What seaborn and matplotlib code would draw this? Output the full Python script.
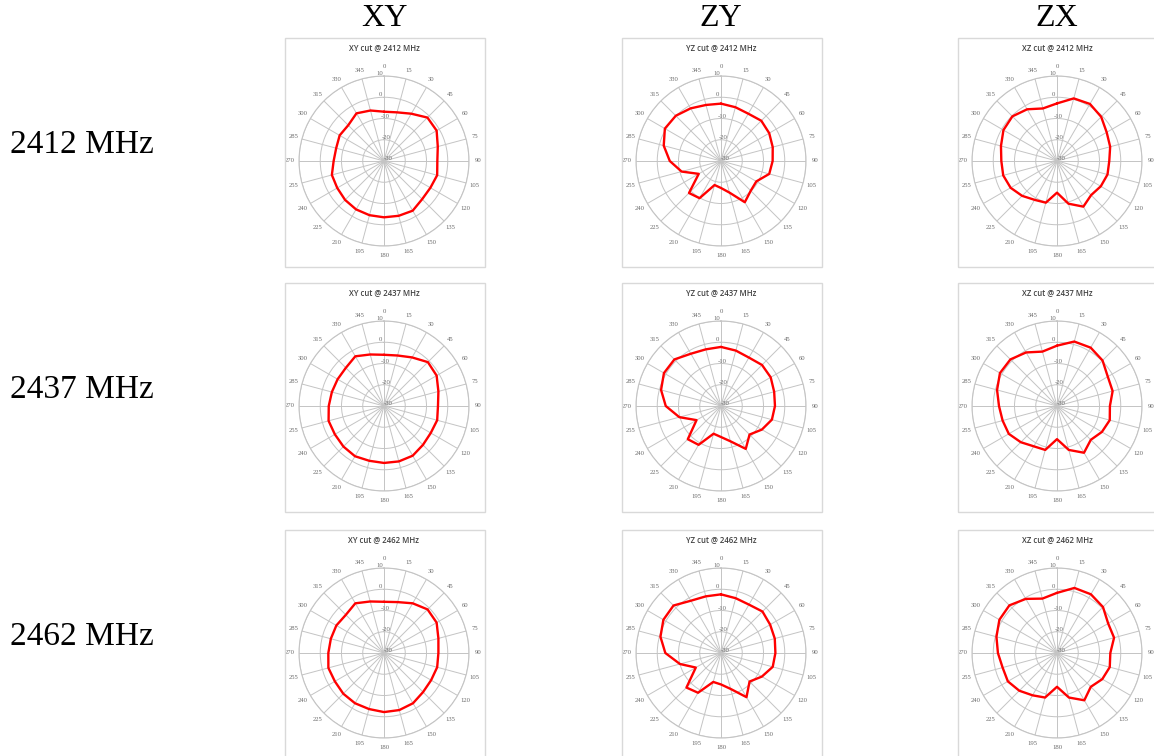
import numpy as np
import pandas as pd
import matplotlib
matplotlib.use("Agg")
import matplotlib.pyplot as plt
from matplotlib.patches import Rectangle
import seaborn as sns

# Antenna gain (dBi) sampled every 15 degrees, 0..345
angles_deg = list(range(0, 360, 15))
angle_labels = [str(a) for a in angles_deg]

xy_2412 = [-6.8, -6.3, -4.3, -1.1, -1.4, -3.8, -4.9, -4.1, -4.8, -4.6, -3.0, -3.3,
           -3.5, -3.6, -3.7, -4.1, -4.6, -4.6, -6.3, -6.7, -5.9, -6.2, -4.1, -5.4]
xy_2437 = [-5.9, -5.4, -3.6, -0.8, -1.4, -3.5, -4.6, -4.1, -4.6, -4.1, -3.0, -3.0,
           -3.2, -3.3, -2.7, -3.0, -3.3, -3.0, -4.0, -4.6, -4.8, -4.6, -3.0, -4.9]
xy_2462 = [-5.9, -5.2, -3.0, -1.0, -1.4, -3.5, -4.4, -4.1, -4.4, -4.0, -2.7, -2.2,
           -2.2, -2.7, -2.7, -2.9, -3.3, -2.9, -3.8, -4.1, -4.1, -4.6, -3.0, -4.9]

yz_2412 = [-3.0, -3.8, -4.3, -3.2, -3.8, -4.8, -5.7, -6.5, -10.8, -10.2, -7.6, -14.6,
           -17.3, -18.3, -9.8, -8.7, -17.9, -10.8, -5.9, -2.1, 0.5, 0.1, -1.4, -2.7]
yz_2437 = [-2.2, -3.0, -3.7, -2.7, -3.0, -4.1, -4.6, -5.2, -7.8, -11.0, -6.7, -12.8,
           -15.4, -16.5, -8.9, -7.9, -16.7, -9.7, -4.0, -0.8, 1.0, 1.0, -1.6, -2.4]
yz_2462 = [-2.4, -3.3, -3.7, -2.4, -3.3, -3.8, -4.4, -4.8, -7.8, -11.0, -6.0, -12.5,
           -15.2, -15.9, -8.4, -7.0, -16.3, -10.0, -3.8, -0.5, 1.3, 1.6, -1.6, -2.4]

xz_2412 = [-2.9, 0.5, 1.0, -0.6, -3.0, -4.1, -5.4, -5.4, -6.2, -7.3, -5.2, -9.2,
           -15.1, -9.7, -8.9, -6.8, -4.8, -3.8, -3.8, -2.7, -0.9, -0.3, -1.9, -4.4]
xz_2437 = [-1.6, 1.4, 1.7, 0.3, -2.4, -2.9, -5.1, -4.3, -5.6, -7.5, -4.6, -8.6,
           -14.4, -8.6, -8.1, -5.9, -3.8, -3.5, -2.7, -0.8, 1.0, 1.0, -0.9, -3.5]
xz_2462 = [-1.7, 1.7, 1.9, 0.6, -2.2, -2.2, -4.9, -4.3, -5.4, -7.5, -4.3, -8.3,
           -14.1, -8.3, -7.0, -4.9, -3.3, -3.5, -2.2, -0.5, 1.3, 1.7, -0.6, -3.5]

frequencies = ["2412", "2437", "2462"]
row_labels = ["2412 MHz", "2437 MHz", "2462 MHz"]
col_headers = ["XY", "ZY", "ZX"]
cut_names = ["XY", "YZ", "XZ"]
panels = [
    [xy_2412, yz_2412, xz_2412],
    [xy_2437, yz_2437, xz_2437],
    [xy_2462, yz_2462, xz_2462],
]
r_ticks = [-30, -20, -10, 0, 10]

sns.set_style("white")
plt.rcParams["font.family"] = ["Liberation Serif", "DejaVu Serif"]

W, H = 1154, 756
fig = plt.figure(figsize=(W / 100, H / 100), dpi=100)
fig.patch.set_facecolor("white")


def fx(px):
    return px / W


def fy(py):
    return 1 - py / H


col_left = [285, 622, 958]
row_top = [38, 283, 530]
box_w, box_h = 200, 229
radius = 85

# column headers and row labels
for j, hdr in enumerate(col_headers):
    fig.text(fx(col_left[j] + 99), fy(18), hdr, ha="center", va="center",
             fontsize=23, color="black", family=["Liberation Serif"])
for i, lab in enumerate(row_labels):
    fig.text(fx(10), fy(row_top[i] + 107), lab, ha="left", va="center",
             fontsize=24, color="black", family=["Liberation Serif"])

grid_col = "#c4c4c4"
tick_col = "#6a6a6a"

for i in range(3):
    for j in range(3):
        x0, y0 = col_left[j], row_top[i]
        fig.add_artist(Rectangle((fx(x0), fy(y0 + box_h)), fx(box_w), box_h / H,
                                 transform=fig.transFigure, fill=False,
                                 edgecolor="#d9d9d9", linewidth=1.0))
        cx, cy = x0 + 99, y0 + 123
        fig.text(fx(cx), fy(y0 + 10), f"{cut_names[j]} cut @ {frequencies[i]} MHz",
                 ha="center", va="center", fontsize=5.6, color="#404040",
                 family=["Open Sans", "DejaVu Sans"], fontweight="semibold")

        ax = fig.add_axes([fx(cx - radius), fy(cy + radius), 2 * radius / W, 2 * radius / H],
                          projection="polar")
        ax.set_theta_zero_location("N")
        ax.set_theta_direction(-1)

        vals = panels[i][j]
        df = pd.DataFrame({
            "theta": np.deg2rad(angles_deg + [angles_deg[0] + 360]),
            "gain": vals + [vals[0]],
        })
        sns.lineplot(data=df, x="theta", y="gain", ax=ax, sort=False, estimator=None,
                     color="#ff0000", linewidth=1.7, legend=False, zorder=5)

        ax.set_ylim(-30, 10)
        ax.set_thetagrids(angles_deg, angle_labels, fontsize=4.8, color=tick_col)
        ax.set_rgrids(r_ticks, [str(t) for t in r_ticks], angle=355,
                      fontsize=4.8, color=tick_col)
        ax.tick_params(axis="x", pad=-4)
        ax.grid(True, color=grid_col, linewidth=0.7)
        ax.spines["polar"].set_color(grid_col)
        ax.spines["polar"].set_linewidth(0.8)
        ax.set_xlabel("")
        ax.set_ylabel("")
        ax.set_facecolor("none")

fig.savefig("out.png", dpi=100, facecolor="white")
